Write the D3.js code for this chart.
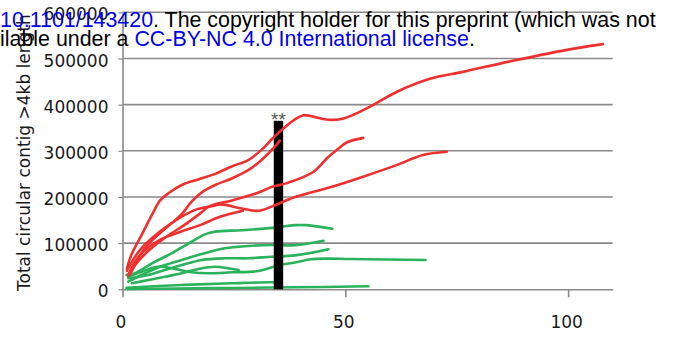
<!DOCTYPE html>
<html><head><meta charset="utf-8">
<script src="https://cdn.jsdelivr.net/npm/d3@7"></script>
<style>body{margin:0;background:#fff;overflow:hidden} svg{display:block}</style>
</head><body>
<script>
// ---- data ----
const xTickValues = [0, 50, 100];
const yTickValues = [0, 100000, 200000, 300000, 400000, 500000, 600000];
const barPositions = [35];
const barValues = [365000];
const barLabels = ["**"];

const red1 = [[1.0,45000],[2.0,75000],[4.3,118000],[6.6,161000],[8.4,192000],[10.3,208000],[13.3,226000],[17,238000],[20.8,250000],[24.5,266000],[28.2,280000],[31.2,302000],[33.5,325000],[35.7,345000],[38.7,368000],[40.6,377000],[42.8,374000],[45,369000],[47.3,367000],[49.6,370000],[51.8,378000],[56.2,399000],[61.6,428000],[69,456000],[76.4,471000],[87.6,495000],[98.9,517000],[107.8,531000]];
const red2 = [[1.5,30000],[2.1,40000],[5,89000],[8.8,125000],[13.3,163000],[15.5,190000],[17.8,210000],[20.8,226000],[24.5,240000],[28.2,258000],[31.2,280000],[34.2,309000],[35.3,322000]];
const red3 = [[1.2,30000],[3,55000],[6,85000],[10,115000],[14,140000],[17.5,165000],[19.6,180000],[24.8,193000],[30.4,209000],[33.6,222000],[36.9,230000],[42.8,254000],[46,285000],[48.1,302000],[50.3,318000],[54,328000]];
const red4 = [[1.0,40000],[3.9,85000],[8.4,125000],[12.9,155000],[16.3,172000],[20,180000],[22,184000],[26.8,175000],[30.5,170000],[34.2,182000],[38.7,200000],[46.6,221000],[54,244000],[61.5,269000],[67.4,291000],[72.8,298000]];
const red5 = [[1.5,35000],[3.9,74000],[8.4,107000],[12.9,124000],[17.4,139000],[21.9,157000],[27.0,170000]];

const green1 = [[0.9,31000],[2.8,35000],[6.6,56000],[11,78000],[15.5,103000],[18.5,119000],[20.8,125000],[26.8,128000],[33.5,133000],[38.7,139000],[41.3,139000],[47.1,131000]];
const green2 = [[1.3,16500],[5.8,38000],[9.5,52600],[13.3,63500],[17,74300],[23,88800],[28.2,93800],[33.5,96000],[38.7,95500],[45.1,105000]];
const green3 = [[1.3,23800],[5.8,31000],[9.5,41800],[13.3,52600],[17.8,63500],[23,67100],[28.2,67100],[33.5,70600],[38.7,73500],[46.2,86600]];
const green4 = [[1.3,27300],[4.3,38100],[8,49000],[11.8,44000],[15.5,36800],[19.3,34700],[24.5,36800],[30.5,39600],[35.3,52600],[38.7,58000],[42.1,65000],[46,66500],[51.1,65600],[68,63500]];
const green5 = [[2.1,13000],[5.8,20100],[9.5,27300],[13.3,34700],[17,44000],[20.8,49000],[23.7,45500],[26.1,41800]];
const green6 = [[0.9,3500],[13.3,9300],[24.5,13000],[33.5,15200],[35.3,14000]];
const green7 = [[0.9,650],[20,2500],[38.7,4300],[55.2,6500]];

const redSeries = [red1, red2, red3, red4, red5];
const greenSeries = [green1, green2, green3, green4, green5, green6, green7];

const yTitle = "Total circular contig >4kb length";
const headerLine1 = [["10.1101/143420", "#0000ee"], [". The copyright holder for this preprint (which was not", "#000"]];
const headerLine2 = [["ilable under a ", "#000"], ["CC-BY-NC 4.0 International license", "#0000ee"], [".", "#000"]];

// ---- drawing ----
const W = 673, H = 352;
const svg = d3.select("body").append("svg").attr("width", W).attr("height", H);
const x = d3.scaleLinear().domain([0, 110]).range([122.5, 612.7]);
const y = d3.scaleLinear().domain([0, 600000]).range([289.3, 12.3]);
const grey = "#8a8a8a";
const tickFont = "DejaVu Sans";

svg.append("g").selectAll("line").data(yTickValues.slice(1)).join("line")
  .attr("x1", x(0)).attr("x2", x(110))
  .attr("y1", d => y(d)).attr("y2", d => y(d))
  .attr("stroke", grey).attr("stroke-width", 1.6);

const gy = svg.append("g").attr("transform", `translate(${x(0)},0)`)
  .call(d3.axisLeft(y).tickValues(yTickValues).tickSize(4).tickSizeOuter(0).tickPadding(10).tickFormat(d3.format("d")));
gy.select(".domain").attr("stroke", grey).attr("stroke-width", 1.6);
gy.selectAll(".tick line").attr("stroke", grey).attr("stroke-width", 1.2);
gy.selectAll(".tick text").attr("font-family", tickFont).attr("font-size", 17).attr("fill", "#1a1a1a").attr("dy", "0.45em");

const gx = svg.append("g").attr("transform", `translate(0,${y(0)})`)
  .call(d3.axisBottom(x).tickValues(xTickValues).tickSize(8).tickSizeOuter(0).tickPadding(19).tickFormat(d3.format("d")));
gx.select(".domain").attr("stroke", grey).attr("stroke-width", 1.6);
gx.selectAll(".tick line").attr("stroke", grey).attr("stroke-width", 1.6);
gx.selectAll(".tick text").attr("font-family", tickFont).attr("font-size", 17).attr("fill", "#1a1a1a").attr("dx", -2);

const line = d3.line().x(d => x(d[0])).y(d => y(d[1])).curve(d3.curveCatmullRom.alpha(0.5));

svg.append("g").selectAll("path").data(greenSeries).join("path")
  .attr("d", line).attr("fill", "none").attr("stroke", "#2bb25c")
  .attr("stroke-width", 2.6).attr("stroke-linecap", "round");

const barW = 9.4;
svg.append("g").selectAll("rect").data(barValues).join("rect")
  .attr("x", (d, i) => x(barPositions[i]) - barW / 2).attr("width", barW)
  .attr("y", d => y(d)).attr("height", d => y(0) - y(d)).attr("fill", "#000");

svg.append("g").selectAll("path").data(redSeries).join("path")
  .attr("d", line).attr("fill", "none").attr("stroke", "#ef3030")
  .attr("stroke-width", 2.6).attr("stroke-linecap", "round");

svg.append("g").selectAll("text").data(barLabels).join("text")
  .attr("x", (d, i) => x(barPositions[i])).attr("y", (d, i) => y(barValues[i]) + 5)
  .attr("text-anchor", "middle").attr("font-family", "Liberation Sans").attr("font-size", 19)
  .attr("fill", "#555").text(d => d);

svg.append("text")
  .attr("transform", `translate(30,291) rotate(-90)`)
  .attr("font-family", tickFont).attr("font-size", 17).attr("fill", "#1a1a1a")
  .text(yTitle);

function header(parts, yb) {
  const t = svg.append("text").attr("x", 0).attr("y", yb)
    .attr("font-family", "Liberation Sans").attr("font-size", 21.4);
  parts.forEach(p => t.append("tspan").attr("fill", p[1]).text(p[0]));
}
header(headerLine1, 26.7);
header(headerLine2, 45.9);
</script>
</body></html>
